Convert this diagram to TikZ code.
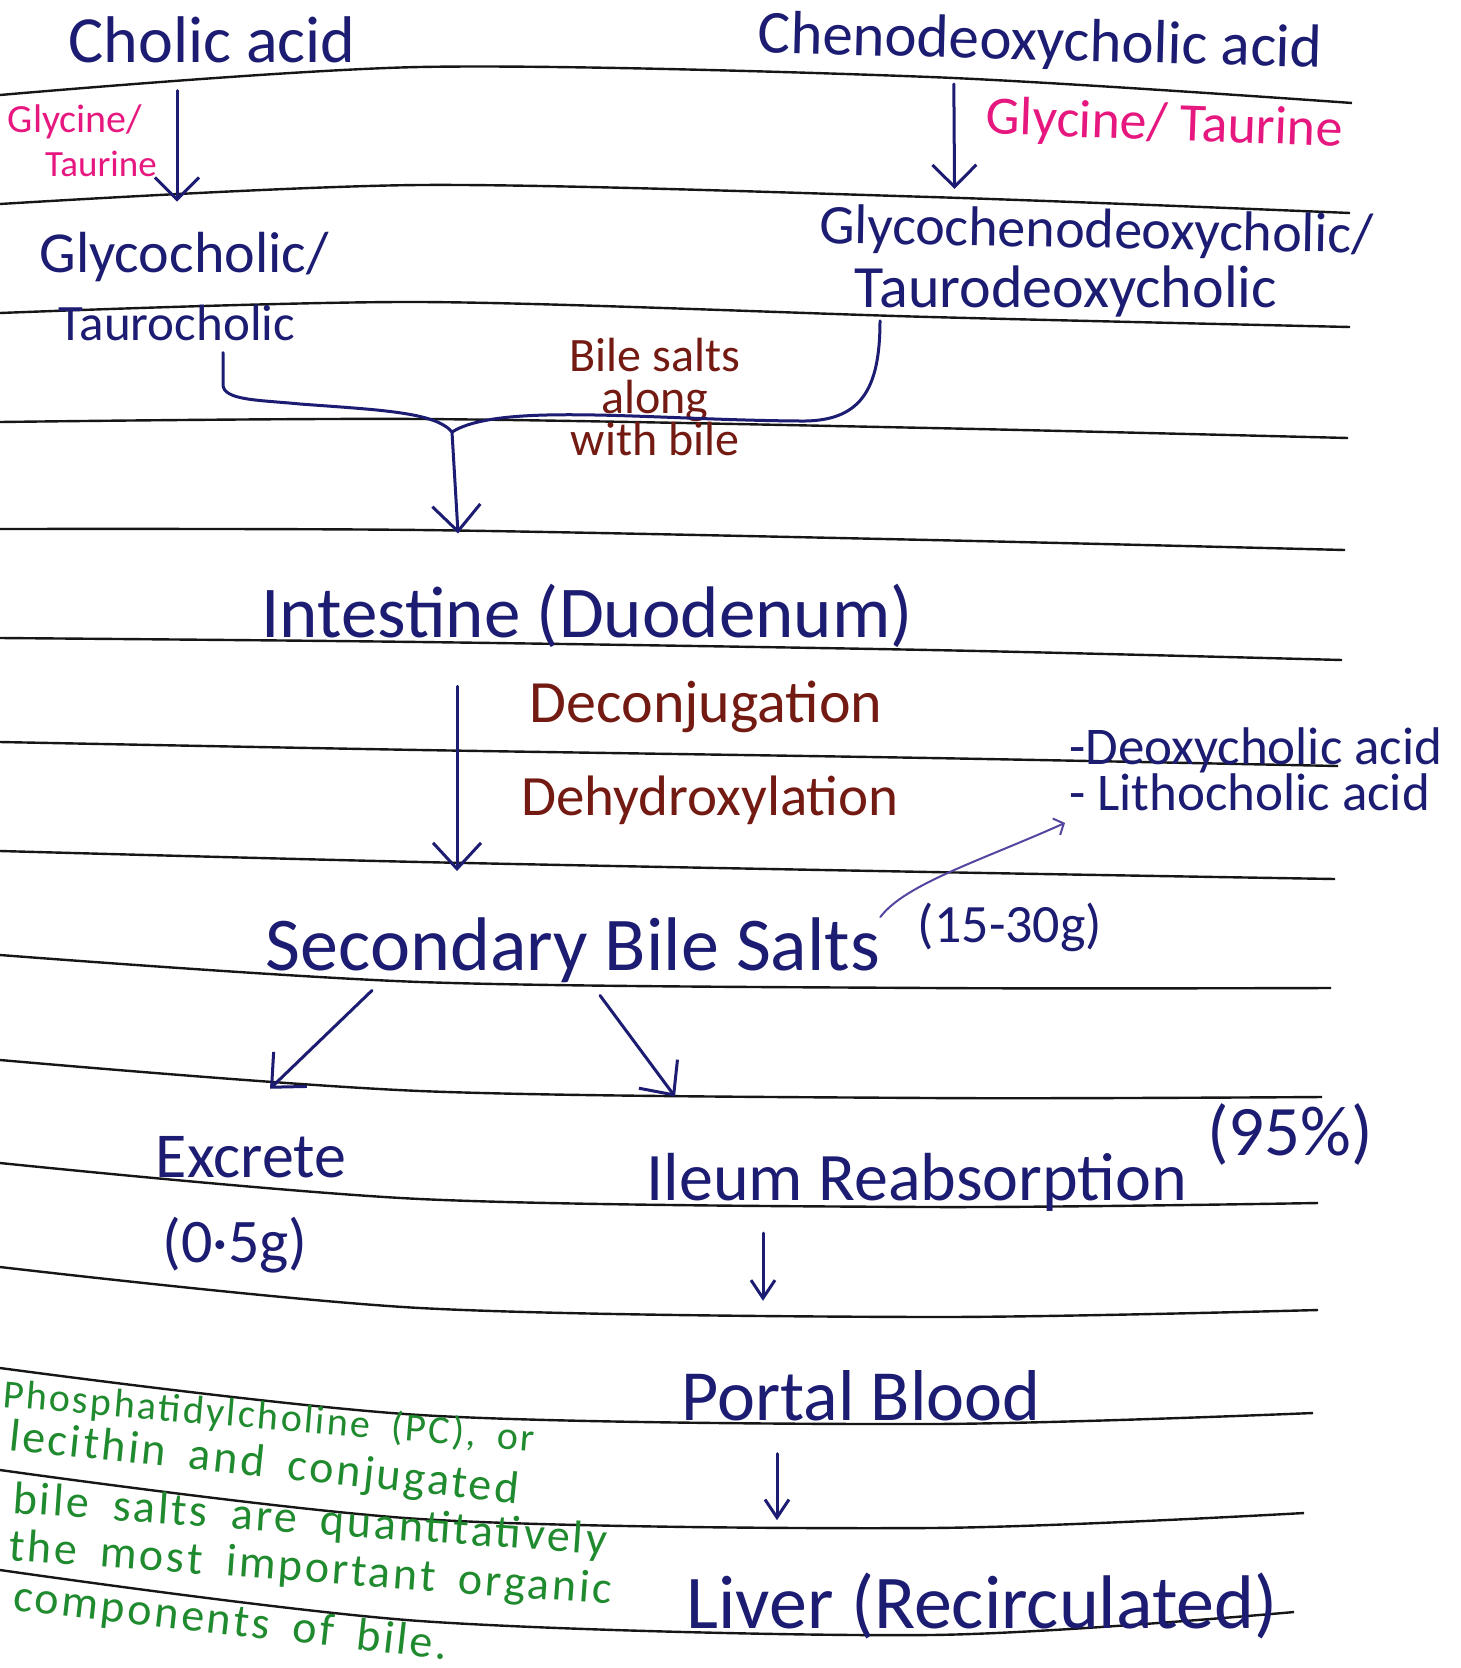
\documentclass[tikz,border=0pt]{standalone}
\usepackage{fontspec}
\setmainfont{Carlito}
\newfontfamily\greenhand[LetterSpace=6,WordSpace=1.8]{Carlito}
\usetikzlibrary{arrows.meta}
\definecolor{inkblue}{HTML}{1C1C72}
\definecolor{inkred}{HTML}{731A12}
\definecolor{inkpink}{HTML}{E6187F}
\definecolor{inkgreen}{HTML}{1F8A2E}
\definecolor{inkviolet}{HTML}{5446A0}
\definecolor{ruleink}{HTML}{161616}
\newcommand{\hw}[1]{\fontsize{#1}{#1}\selectfont}

\begin{document}
\begin{tikzpicture}[x=1pt, y=-1pt,
    >={Straight Barb[length=26pt,width=48pt]},
    hand/.style={inner sep=0pt, anchor=base, text=inkblue},
    handpink/.style={hand, text=inkpink},
    handred/.style={hand, text=inkred},
    handgreen/.style={inner sep=0pt, anchor=base west, text=inkgreen},
    inkline/.style={draw=inkblue, line width=3pt, line cap=round, line join=round},
    inkarrow/.style={inkline, ->},
    inkarrowsmall/.style={inkline, -{Straight Barb[length=18pt,width=24pt]}},
    inkthin/.style={draw=inkviolet, line width=2pt, line cap=round, -{Straight Barb[length=8pt,width=18pt]}},
    paperline/.style={draw=ruleink, line width=2.4pt}]

\fill[white] (0,0) rectangle (1460,1668);
\useasboundingbox (0,0) rectangle (1460,1668);

\foreach \ya/\yb/\yc/\xe/\ye in {95/67/77/1352/103, 204/185/197/1350/213,
    313/302/317/1350/327, 422/419/428/1348/438, 529/530/540/1345/550,
    638/642/650/1342/660, 742/750/758/1338/766, 851/862/872/1335/879,
    955/982/988/1331/988, 1060/1091/1098/1322/1097, 1163/1199/1207/1318/1203,
    1267/1308/1317/1318/1310, 1368/1415/1424/1313/1413, 1470/1519/1528/1304/1513,
    1570/1621/1635/1294/1612}
  \draw[paperline] plot[smooth] coordinates {(0,\ya) (420,\yb) (930,\yc) (\xe,\ye)};

\node (c1)[hand, font=\hw{66}] at (212,62) {Cholic acid};
\node (c2)[hand, font=\hw{61}, rotate=-1.5] at (1040,60) {Chenodeoxycholic acid};
\node (g1)[handpink, font=\hw{40}] at (75,132) {Glycine/};
\node (g2)[handpink, font=\hw{37}] at (101,176) {Taurine};
\node (g3)[handpink, font=\hw{54}, rotate=-2] at (1164,140) {Glycine/ Taurine};
\node (c3)[hand, font=\hw{58}] at (184,272) {Glycocholic/};
\node (c4)[hand, font=\hw{51}] at (177,340) {Taurocholic};
\node (c5)[hand, font=\hw{56}, rotate=-1] at (1096,248) {Glycochenodeoxycholic/};
\node (c6)[hand, font=\hw{60}] at (1066,307) {Taurodeoxycholic};
\node (b1)[handred, font=\fontsize{48}{42}\selectfont, align=center, anchor=north] at (655,338) {
    Bile salts\\along\\with bile
};

\node (n1)[hand, font=\hw{73}] at (587,637) {Intestine (Duodenum)};
\node (d1)[handred, font=\hw{60}] at (706,722) {Deconjugation};
\node (d2)[handred, font=\hw{57}] at (710,815) {Dehydroxylation};
\node (sb)[hand, font=\fontsize{53}{38}\selectfont, align=left, anchor=north west] at (1069,727) {
    -Deoxycholic acid\\- Lithocholic acid
};
\node (n2)[hand, font=\hw{76}] at (573,970) {Secondary Bile Salts};
\node (q1)[hand, font=\hw{54}] at (1010,942) {(15-30g)};
\node (e1)[hand, font=\hw{64}] at (251,1177) {Excrete};
\node (e2)[hand, font=\hw{62}] at (235,1262) {(0·5g)};
\node (n3)[hand, font=\hw{68}] at (917,1200) {Ileum Reabsorption};
\node (p1)[hand, font=\hw{71}] at (1290,1155) {(95\%)};
\node (n4)[hand, font=\hw{72}] at (861,1420) {Portal Blood};
\node (n5)[hand, font=\hw{76}] at (982,1628) {Liver (Recirculated)};
\node (t1)[handgreen, font=\greenhand\hw{40}, rotate=-4.8] at (2,1407) {Phosphatidylcholine (PC), or};
\node (t2)[handgreen, font=\greenhand\hw{46}, rotate=-6] at (8,1450) {lecithin and conjugated};
\node (t3)[handgreen, font=\greenhand\hw{46}, rotate=-4] at (12,1513) {bile salts are quantitatively};
\node (t4)[handgreen, font=\greenhand\hw{46}, rotate=-4.2] at (8,1560) {the most important organic};
\node (t5)[handgreen, font=\greenhand\hw{46}, rotate=-6.5] at (12,1610) {components of bile.};

\coordinate (jn) at (452,432);

\draw[inkarrow, -{Straight Barb[length=22pt,width=44pt]}, shorten <=28pt, shorten >=30pt] ([xshift=-35pt]c1.south) -- ([xshift=-7pt]c3.north);
\draw[inkarrow, -{Straight Barb[length=22pt,width=44pt]}, shorten <=14pt, shorten >=20pt] ([xshift=-86pt]c2.south) -- ([xshift=-142pt]c5.north);
\draw[inkline] ([shift={(46,12)}]c4.south) -- ++(0,32) .. controls +(0,16) and (260,400) .. (300,404) .. controls (380,410) and (435,412) .. (jn);
\draw[inkline] ([shift={(-186,4)}]c6.south) .. controls +(0,70) and (860,422) .. (800,421) .. controls (650,420) and (500,402) .. (jn);
\draw[inkarrow, shorten >=50pt] (jn) -- ([xshift=-126pt]n1.north);
\draw[inkarrow, shorten <=39pt, shorten >=46pt] ([xshift=-130pt]n1.south) -- ([xshift=-116pt]n2.north);
\draw[inkthin] (n2.north east) .. controls +(25,-33) and +(-85,38) .. ([shift={(-4,12)}]sb.south west);
\draw[inkarrow] ([shift={(-201,8)}]n2.south) -- ([shift={(19,-47)}]e1.north);
\draw[inkarrow] ([shift={(27,13)}]n2.south) -- ([shift={(-242,-56)}]n3.north);
\draw[inkarrowsmall] ([shift={(-154,22)}]n3.south) -- ([shift={(-98,-69)}]n4.north);
\draw[inkarrowsmall] ([shift={(-84,33)}]n4.south) -- ([shift={(-205,-52)}]n5.north);
\end{tikzpicture}
\end{document}
